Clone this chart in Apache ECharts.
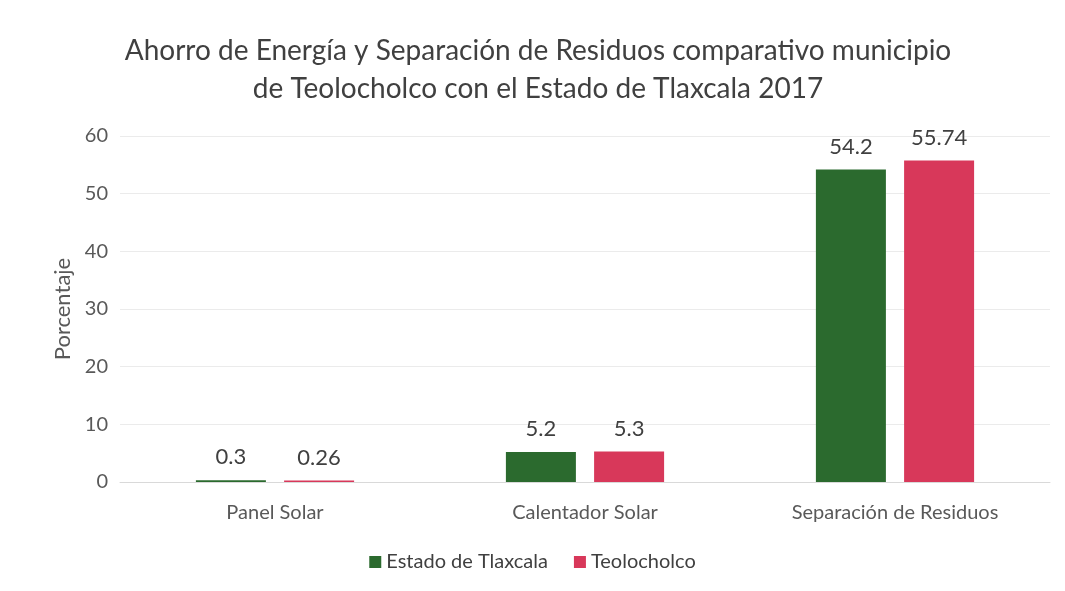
<!DOCTYPE html>
<html>
<head>
<meta charset="utf-8">
<script src="https://cdn.jsdelivr.net/npm/echarts@6/dist/echarts.min.js"></script>
<style>
  html, body { margin: 0; padding: 0; background: #fff; }
  #main { width: 1065px; height: 591px; }
</style>
</head>
<body>
<div id="main"></div>
<script>
const categories = ['Panel Solar', 'Calentador Solar', 'Separación de Residuos']
const estadoValues = [0.3, 5.2, 54.2]
const teoloValues = [0.26, 5.3, 55.74]
const seriesNames = ['Estado de Tlaxcala', 'Teolocholco']

const chart = echarts.init(document.getElementById('main'), null, { renderer: 'canvas' })
const font = 'Lato, "Open Sans", sans-serif'

const labelStyle = {
  show: true,
  position: 'top',
  distance: 12,
  color: '#404040',
  fontSize: 22,
  fontFamily: font
}

const option = {
  backgroundColor: '#fff',
  title: {
    text: 'Ahorro de Energía y Separación de Residuos comparativo municipio\nde Teolocholco con el Estado de Tlaxcala 2017',
    left: 533,
    top: 27,
    textAlign: 'center',
    textStyle: {
      color: '#404040',
      fontSize: 28,
      fontWeight: 'normal',
      fontFamily: font,
      lineHeight: 38
    }
  },
  legend: {
    data: seriesNames,
    bottom: 14,
    left: 'center',
    itemWidth: 12,
    itemHeight: 12,
    itemGap: 26,
    icon: 'rect',
    textStyle: { color: '#404040', fontSize: 20, fontFamily: font }
  },
  grid: { left: 120, right: 15, top: 136, bottom: 109 },
  xAxis: {
    type: 'category',
    data: categories,
    axisLine: { lineStyle: { color: '#d9d9d9' } },
    axisTick: { show: false },
    axisLabel: { color: '#595959', fontSize: 20, fontFamily: font, margin: 21 }
  },
  yAxis: {
    type: 'value',
    min: 0,
    max: 60,
    interval: 10,
    name: 'Porcentaje',
    nameLocation: 'middle',
    nameGap: 46,
    nameTextStyle: { color: '#595959', fontSize: 22, fontFamily: font },
    axisLine: { show: false },
    axisTick: { show: false },
    axisLabel: { color: '#595959', fontSize: 20, fontFamily: font, margin: 12 },
    splitLine: { lineStyle: { color: '#ebebeb' } }
  },
  series: [
    {
      name: seriesNames[0],
      type: 'bar',
      data: estadoValues,
      barWidth: 70,
      barGap: '26%',
      itemStyle: { color: '#2b6a2e' },
      label: labelStyle
    },
    {
      name: seriesNames[1],
      type: 'bar',
      data: teoloValues,
      barWidth: 70,
      itemStyle: { color: '#d8385a' },
      label: labelStyle
    }
  ]
}

chart.setOption(option)
</script>
</body>
</html>
